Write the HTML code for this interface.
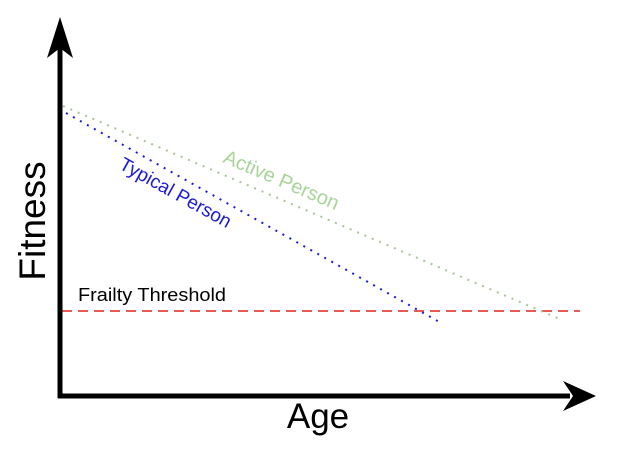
<!DOCTYPE html>
<html><head><style>body{margin:0;background:#fff}svg{display:block}</style></head><body>
<svg width="641" height="453" viewBox="0 0 641 453" xmlns="http://www.w3.org/2000/svg" font-family="Liberation Sans, sans-serif">
<rect width="641" height="453" fill="#fff"/>
<line x1="62" y1="311" x2="580" y2="311" stroke="#e85a5a" stroke-width="2" stroke-dasharray="10,6"/>
<line x1="63" y1="106" x2="562" y2="320" stroke="#a8c49a" stroke-width="2" stroke-dasharray="2,6"/>
<line x1="66" y1="113" x2="443" y2="324" stroke="#1a1ad8" stroke-width="2" stroke-dasharray="2,6"/>
<line x1="60" y1="40" x2="60" y2="398" stroke="#000" stroke-width="5"/>
<line x1="58" y1="396" x2="570" y2="396" stroke="#000" stroke-width="5"/>
<polygon points="60,17 73,58 60,48 47,58" fill="#000"/>
<polygon points="596,396 563,381 573,396 563,411" fill="#000"/>
<text x="78" y="301" font-size="18" textLength="148" lengthAdjust="spacingAndGlyphs" fill="#000">Frailty Threshold</text>
<text transform="translate(45,221) rotate(-90)" font-size="37" text-anchor="middle" fill="#000">Fitness</text>
<text x="318" y="428" font-size="35" text-anchor="middle" fill="#000">Age</text>
<text transform="translate(118,168) rotate(29)" font-size="19" fill="#1a1ad8">Typical Person</text>
<text transform="translate(222,162) rotate(23)" font-size="20" fill="#a8d49a">Active Person</text>
</svg>
</body></html>
